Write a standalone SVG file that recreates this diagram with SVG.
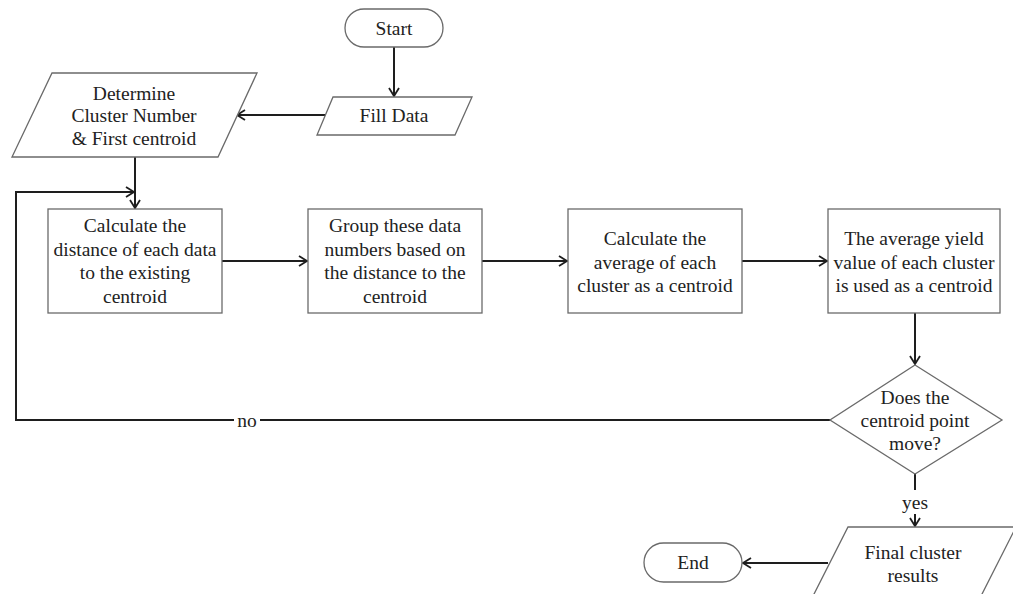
<svg xmlns="http://www.w3.org/2000/svg" width="1013" height="594" viewBox="0 0 1013 594">
  <style>
    .shape { fill: #ffffff; stroke: #6a6a6a; stroke-width: 1.3; }
    .edge { fill: none; stroke: #1e1e1e; stroke-width: 2; }
    .lbl { font-family: "Liberation Serif", "Times New Roman", serif; font-size: 19.5px; fill: #222222; text-anchor: middle; }
  </style>
  <defs>
    <marker id="arrow" markerUnits="userSpaceOnUse" markerWidth="12" markerHeight="14" refX="9" refY="6" orient="auto">
      <path d="M1,1 L9,6 L1,11" fill="none" stroke="#1e1e1e" stroke-width="1.8"/>
    </marker>
  </defs>
  <rect width="1013" height="594" fill="#ffffff"/>

  <!-- connectors -->
  <g id="connectors">
    <path class="edge" d="M394,47 L394,96" marker-end="url(#arrow)"/>
    <path class="edge" d="M325,115 L237,115" marker-end="url(#arrow)"/>
    <path class="edge" d="M135,157 L135,208" marker-end="url(#arrow)"/>
    <path class="edge" d="M222,261 L307,261" marker-end="url(#arrow)"/>
    <path class="edge" d="M482,261 L567,261" marker-end="url(#arrow)"/>
    <path class="edge" d="M742,261 L827,261" marker-end="url(#arrow)"/>
    <path class="edge" d="M915,313 L915,364" marker-end="url(#arrow)"/>
    <path class="edge" d="M830,420 L16,420 L16,192 L134,192" marker-end="url(#arrow)"/>
    <rect x="234" y="410" width="26" height="20" fill="#ffffff"/>
    <text class="lbl" x="247" y="427">no</text>
    <path class="edge" d="M915,474 L915,490"/>
    <text class="lbl" x="915" y="509">yes</text>
    <path class="edge" d="M915,514 L915,526" marker-end="url(#arrow)"/>
    <path class="edge" d="M828,563 L743,563" marker-end="url(#arrow)"/>
  </g>

  <g id="start">
    <rect class="shape" x="345" y="9" width="98" height="38" rx="19"/>
    <text class="lbl" x="394" y="35">Start</text>
  </g>

  <g id="fill-data">
    <polygon class="shape" points="333,97 472,97 455,135 317,135"/>
    <text class="lbl" x="394" y="122">Fill Data</text>
  </g>

  <g id="determine">
    <polygon class="shape" points="52,73 257,73 218,157 12,157"/>
    <text class="lbl" x="134" y="100">Determine</text>
    <text class="lbl" x="134" y="122">Cluster Number</text>
    <text class="lbl" x="134" y="145">&amp; First centroid</text>
  </g>

  <g id="calc-distance">
    <rect class="shape" x="48" y="209" width="174" height="104"/>
    <text class="lbl" x="135" y="232">Calculate the</text>
    <text class="lbl" x="135" y="256">distance of each data</text>
    <text class="lbl" x="135" y="279">to the existing</text>
    <text class="lbl" x="135" y="303">centroid</text>
  </g>

  <g id="group-data">
    <rect class="shape" x="308" y="209" width="174" height="104"/>
    <text class="lbl" x="395" y="232">Group these data</text>
    <text class="lbl" x="395" y="256">numbers based on</text>
    <text class="lbl" x="395" y="279">the distance to the</text>
    <text class="lbl" x="395" y="303">centroid</text>
  </g>

  <g id="calc-average">
    <rect class="shape" x="568" y="209" width="174" height="104"/>
    <text class="lbl" x="655" y="245">Calculate the</text>
    <text class="lbl" x="655" y="269">average of each</text>
    <text class="lbl" x="655" y="292">cluster as a centroid</text>
  </g>

  <g id="average-yield">
    <rect class="shape" x="828" y="209" width="172" height="104"/>
    <text class="lbl" x="914" y="245">The average yield</text>
    <text class="lbl" x="914" y="269">value of each cluster</text>
    <text class="lbl" x="914" y="292">is used as a centroid</text>
  </g>

  <g id="centroid-moved">
    <polygon class="shape" points="915,365 1002,420 915,474 830,420"/>
    <text class="lbl" x="915" y="404">Does the</text>
    <text class="lbl" x="915" y="427">centroid point</text>
    <text class="lbl" x="915" y="450">move?</text>
  </g>

  <g id="final-results">
    <polygon class="shape" points="848,527 1016,527 979,600 811,600"/>
    <text class="lbl" x="913" y="559">Final cluster</text>
    <text class="lbl" x="913" y="582">results</text>
  </g>

  <g id="end">
    <rect class="shape" x="644" y="543" width="98" height="39" rx="19.5"/>
    <text class="lbl" x="693" y="569">End</text>
  </g>
</svg>
